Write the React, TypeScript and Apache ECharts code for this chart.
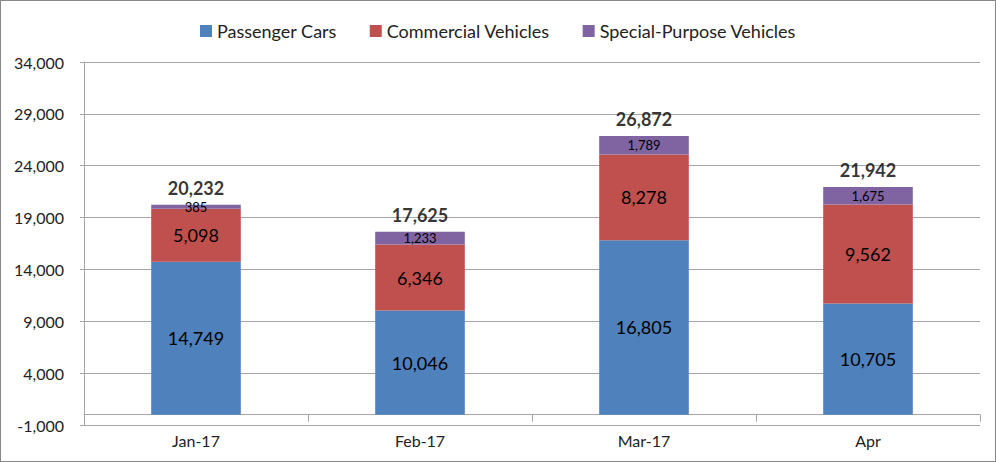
import React, { useEffect, useRef } from "react";
import * as echarts from "echarts";

const categories = ["Jan-17", "Feb-17", "Mar-17", "Apr"];
const passengerCars = [14749, 10046, 16805, 10705];
const commercialVehicles = [5098, 6346, 8278, 9562];
const specialPurpose = [385, 1233, 1789, 1675];
const totals = [20232, 17625, 26872, 21942];

const FONT = "Lato";
const fmt = (v: number) => v.toLocaleString("en-US");

export default function App() {
  const ref = useRef<HTMLDivElement>(null);
  useEffect(() => {
    if (!ref.current) return;
    const chart = echarts.init(ref.current, null, { renderer: "svg" });
    const insideLabel = (size: number) => ({
      show: true,
      position: "inside" as const,
      color: "#000",
      fontFamily: FONT,
      fontSize: size,
      formatter: (p: any) => fmt(p.value),
    });
    chart.setOption({
      animation: false,
      textStyle: { fontFamily: FONT },
      legend: {
        top: 17,
        left: "center",
        itemWidth: 12,
        itemHeight: 12,
        itemGap: 33,
        icon: "rect",
        textStyle: { fontFamily: FONT, fontSize: 18, color: "#222" },
        data: ["Passenger Cars", "Commercial Vehicles", "Special-Purpose Vehicles"],
      },
      grid: { left: 84, right: 16, top: 62, bottom: 37 },
      xAxis: {
        type: "category",
        data: categories,
        axisLine: { onZero: true, lineStyle: { color: "#a6a6a6" } },
        axisTick: { show: true, length: 7, lineStyle: { color: "#a6a6a6" } },
        axisLabel: { fontFamily: FONT, fontSize: 16, color: "#222", margin: 7 },
      },
      yAxis: {
        type: "value",
        min: -1000,
        max: 34000,
        interval: 5000,
        axisLine: { show: true, lineStyle: { color: "#a6a6a6" } },
        axisTick: { show: true, length: 4, lineStyle: { color: "#a6a6a6" } },
        splitLine: { lineStyle: { color: "#a6a6a6" } },
        axisLabel: {
          fontFamily: FONT,
          fontSize: 16,
          color: "#222",
          margin: 20,
          formatter: (v: number) => fmt(v),
        },
      },
      series: [
        {
          name: "Passenger Cars",
          type: "bar",
          stack: "s",
          barWidth: "40%",
          itemStyle: { color: "#4F81BD" },
          label: insideLabel(18),
          data: passengerCars,
        },
        {
          name: "Commercial Vehicles",
          type: "bar",
          stack: "s",
          itemStyle: { color: "#C0504D" },
          label: insideLabel(18),
          data: commercialVehicles,
        },
        {
          name: "Special-Purpose Vehicles",
          type: "bar",
          stack: "s",
          itemStyle: { color: "#8064A2" },
          label: insideLabel(13),
          data: specialPurpose,
        },
        {
          name: "Total",
          type: "scatter",
          symbolSize: 0,
          silent: true,
          label: {
            show: true,
            position: "top",
            distance: 8,
            color: "#000",
            fontFamily: FONT,
            fontWeight: "bold",
            fontSize: 18,
            formatter: (p: any) => fmt(p.value),
          },
          data: totals,
        },
      ],
    });
    return () => chart.dispose();
  }, []);
  return (
    <div
      style={{
        position: "fixed",
        left: 0,
        top: 0,
        width: 996,
        height: 462,
        boxSizing: "border-box",
        border: "1px solid #888",
        background: "#fff",
      }}
    >
      <div ref={ref} style={{ position: "absolute", left: -1, top: -1, width: 996, height: 462 }} />
    </div>
  );
}
